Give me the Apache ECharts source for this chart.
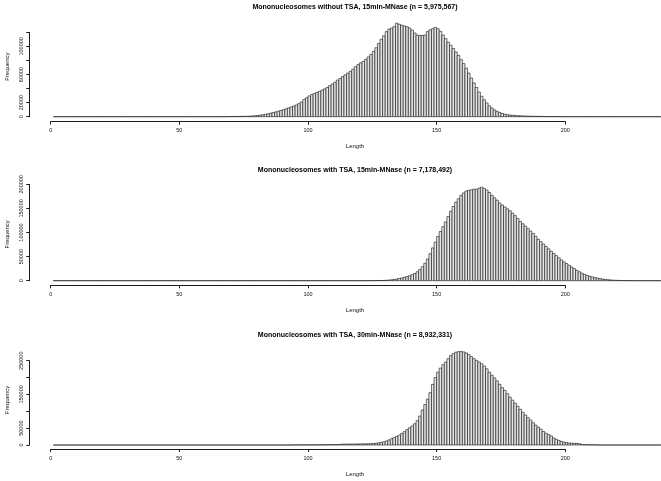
<!DOCTYPE html>
<html>
<head>
<meta charset="utf-8">
<script src="https://cdn.jsdelivr.net/npm/echarts@6/dist/echarts.min.js"></script>
<style>
html,body{margin:0;padding:0;background:#fff;}
#chart{width:661px;height:481px;}
</style>
</head>
<body>
<div id="chart"></div>
<script>
// ---------------- DATA ----------------
const titles = [
  "Mononucleosomes without TSA, 15min-MNase (n = 5,975,567)",
  "Mononucleosomes with TSA, 15min-MNase (n = 7,178,492)",
  "Mononucleosomes with TSA, 30min-MNase (n = 8,932,331)"
];
const xLabel = "Length";
const yLabel = "Frequency";
// histogram bins are 1 bp wide, covering lengths lengthMin .. lengthMax
const lengthMin = 1;
const lengthMax = 238;
const xTicks = [0, 50, 100, 150, 200];

// panel 1: counts starting at length start1
const start1 = 69;
const counts1 = [
  200, 250, 300, 350, 400, 450, 550, 650, 800, 1000,
  1300, 1700, 2200, 2800, 3400, 4200, 5000, 5900, 6800, 7800,
  8800, 10000, 11200, 12500, 13800, 15200, 16700, 18500, 21000, 24500,
  27000, 29500, 31500, 33000, 34500, 36000, 37800, 39600, 41500, 44000,
  46500, 49000, 52000, 54500, 57000, 59500, 62000, 64500, 67500, 71000,
  74000, 76500, 78500, 81500, 85000, 88500, 93000, 98000, 104000, 110000,
  115000, 121000, 124500, 126000, 128000, 133000, 131500, 130000, 129000, 128000,
  126000, 123000, 119000, 116000, 115500, 115500, 116000, 121000, 123500, 125000,
  127000, 125000, 121500, 116000, 111000, 106000, 101500, 97000, 92000, 87000,
  81000, 75500, 69000, 62000, 55000, 48000, 41500, 35000, 29000, 24000,
  19500, 15500, 12300, 9600, 7600, 6000, 4600, 3600, 2900, 2400,
  2000, 1700, 1500, 1300, 1100, 950, 800, 700, 600, 500,
  450, 400, 350, 300, 250, 220, 200, 180, 160, 140
];
const yTicks1 = [0, 20000, 40000, 60000, 80000, 100000, 120000];
const yTickLabels1 = ["0", "20000", "", "60000", "", "100000", ""];

// panel 2
const start2 = 123;
const counts2 = [
  100, 150, 200, 250, 350, 450, 600, 900, 1300, 1900,
  2600, 3500, 4600, 5800, 7000, 8500, 10300, 12500, 15000, 18500,
  23000, 29000, 36000, 45000, 56000, 68000, 80000, 92000, 102000, 112000,
  122000, 133000, 144000, 154000, 163000, 170000, 177000, 182000, 186000, 187500,
  188500, 190000, 189500, 192000, 194000, 191500, 188000, 183000, 177000, 172000,
  167000, 161000, 157000, 153000, 149000, 145000, 140000, 135000, 129000, 123000,
  118000, 113000, 108000, 103000, 98000, 92000, 86000, 81000, 76000, 71000,
  66000, 61000, 56500, 52000, 47500, 43000, 39000, 35500, 32000, 28500,
  25000, 21500, 18500, 15500, 13000, 11000, 9200, 7800, 6500, 5300,
  4300, 3400, 2700, 2100, 1600, 1200, 900, 700, 500, 400,
  300, 200, 150, 100
];
const yTicks2 = [0, 50000, 100000, 150000, 200000];
const yTickLabels2 = ["0", "50000", "100000", "150000", "200000"];

// panel 3
const start3 = 94;
const counts3 = [
  300, 300, 350, 400, 400, 450, 500, 550, 600, 650,
  700, 800, 900, 1000, 1100, 1200, 1300, 1400, 1600, 2500,
  2600, 2700, 2800, 2900, 3000, 3100, 3200, 3300, 3500, 3700,
  4000, 4500, 5200, 6200, 7500, 9500, 12000, 15000, 18500, 22000,
  25500, 29500, 34000, 39500, 45500, 51000, 56500, 63000, 72000, 86000,
  104000, 120000, 136000, 155000, 180000, 200000, 216000, 228000, 238000, 246000,
  256000, 265000, 271000, 275000, 277000, 277000, 276000, 273000, 268000, 262000,
  256000, 251000, 246000, 241000, 234000, 226000, 216000, 207000, 199000, 190000,
  180000, 170000, 162000, 152000, 142000, 133000, 124000, 115000, 106000, 97000,
  89000, 81000, 74000, 66000, 59000, 53000, 47000, 40000, 35000, 31000,
  27000, 21000, 17000, 13500, 10500, 8500, 7000, 5900, 5300, 5000,
  4700, 4000, 1500, 1200, 1000, 800, 600, 500, 400
];
const yTicks3 = [0, 50000, 100000, 150000, 200000, 250000];
const yTickLabels3 = ["0", "50000", "", "150000", "", "250000"];

// ---------------- LAYOUT ----------------
const W = 661;
const plotLeft = 50.7;       // pixel of length 0
const xViewMax = 237.2;      // length at right edge
const pxPerUnit = (W - plotLeft) / xViewMax;
const yAxisX = 29.3;
const FONT = '"Liberation Sans", Arial, sans-serif';
const AX = '#1a1a1a';

const panels = [
  { start: start1, counts: counts1, ticks: yTicks1, labels: yTickLabels1,
    titleY: 7, base: 116.7, topTick: 32.3, axisY: 121.7, lenY: 146, freqY: 66.7 },
  { start: start2, counts: counts2, ticks: yTicks2, labels: yTickLabels2,
    titleY: 170, base: 280.7, topTick: 184.3, axisY: 285.3, lenY: 310, freqY: 234.3 },
  { start: start3, counts: counts3, ticks: yTicks3, labels: yTickLabels3,
    titleY: 335, base: 445, topTick: 360.7, axisY: 449, lenY: 474, freqY: 400 }
];

const grid = [], xAxis = [], yAxis = [], series = [], graphic = [];

panels.forEach((p, i) => {
  const data = [];
  for (let k = lengthMin; k <= lengthMax; k++) {
    const idx = k - p.start;
    const c = (idx >= 0 && idx < p.counts.length) ? p.counts[idx] : 0;
    data.push([k, c]);
  }
  const yMax = p.ticks[p.ticks.length - 1];
  const yInt = p.ticks[1] - p.ticks[0];

  // plot grid (bars)
  const gPlot = grid.length;
  grid.push({ left: plotLeft, right: 0, top: p.topTick, height: p.base - p.topTick });
  const xPlot = xAxis.length;
  xAxis.push({ gridIndex: gPlot, type: 'value', min: 0, max: xViewMax, show: false });
  const yPlot = yAxis.length;
  yAxis.push({ gridIndex: gPlot, type: 'value', min: 0, max: yMax, show: false });

  // y-axis-only grid
  const gY = grid.length;
  grid.push({ left: yAxisX, width: 10, top: p.topTick, height: p.base - p.topTick });
  xAxis.push({ gridIndex: gY, type: 'value', min: 0, max: 1, show: false });
  yAxis.push({
    gridIndex: gY, type: 'value', min: 0, max: yMax, interval: yInt, position: 'left',
    axisLine: { show: true, onZero: false, lineStyle: { color: AX, width: 1 } },
    axisTick: { show: true, length: 3, inside: false, lineStyle: { color: AX, width: 1 } },
    splitLine: { show: false },
    axisLabel: {
      rotate: 90, margin: 5, fontSize: 5.5, fontFamily: FONT, color: '#111',
      formatter: (v) => { const j = p.ticks.indexOf(v); return j >= 0 ? p.labels[j] : ''; }
    }
  });

  // x-axis-only grid
  const gX = grid.length;
  grid.push({ left: plotLeft, width: 200 * pxPerUnit, top: p.axisY - 10, height: 10 });
  xAxis.push({
    gridIndex: gX, type: 'value', min: 0, max: 200, interval: 50, position: 'bottom',
    axisLine: { show: true, onZero: false, lineStyle: { color: AX, width: 1 } },
    axisTick: { show: true, length: 3, inside: false, lineStyle: { color: AX, width: 1 } },
    splitLine: { show: false },
    axisLabel: { margin: 6, fontSize: 5.5, fontFamily: FONT, color: '#111',
      formatter: (v) => xTicks.indexOf(v) >= 0 ? String(v) : '' }
  });
  yAxis.push({ gridIndex: gX, type: 'value', min: 0, max: 1, show: false });

  series.push({
    type: 'custom',
    xAxisIndex: xPlot, yAxisIndex: yPlot,
    clip: false, silent: true,
    data: data,
    renderItem: function (params, api) {
      const x0 = api.value(0), c = api.value(1);
      const pTop = api.coord([x0, c]);
      const pBot = api.coord([x0 + 1, 0]);
      return {
        type: 'rect',
        shape: { x: pTop[0], y: pTop[1], width: pBot[0] - pTop[0], height: pBot[1] - pTop[1] },
        style: { fill: '#e6e6e6', stroke: '#111', lineWidth: 0.6 }
      };
    }
  });

  graphic.push({ type: 'text', x: 355, y: p.titleY, style: { text: titles[i], font: 'bold 7px ' + FONT, fill: '#000', textAlign: 'center', textVerticalAlign: 'middle' } });
  graphic.push({ type: 'text', x: 355, y: p.lenY, style: { text: xLabel, font: '6px ' + FONT, fill: '#111', textAlign: 'center', textVerticalAlign: 'middle' } });
  graphic.push({ type: 'text', x: 7, y: p.freqY, rotation: Math.PI / 2, style: { text: yLabel, font: '6px ' + FONT, fill: '#111', textAlign: 'center', textVerticalAlign: 'middle' } });
});

const chart = echarts.init(document.getElementById('chart'), null, { renderer: 'canvas' });
chart.setOption({
  animation: false,
  backgroundColor: '#fff',
  grid, xAxis, yAxis, series, graphic
});
</script>
</body>
</html>
